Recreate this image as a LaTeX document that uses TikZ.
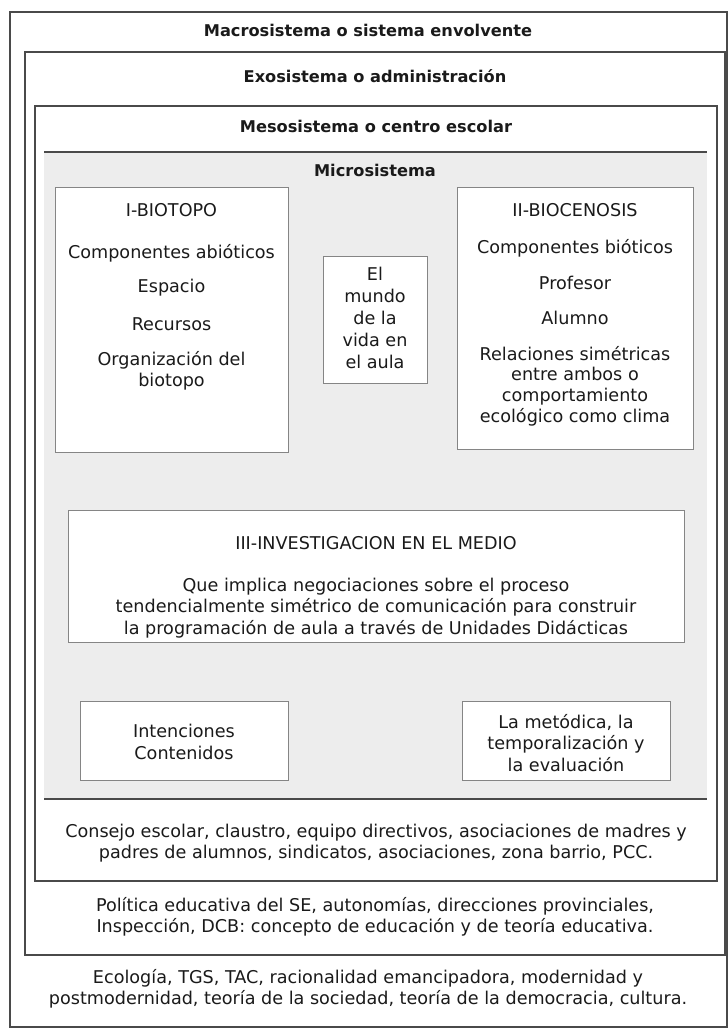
\documentclass[tikz,border=0pt]{standalone}
\usepackage{fontspec}
\setmainfont{DejaVu Sans}
\definecolor{framec}{HTML}{4A4A4A}
\definecolor{boxc}{HTML}{858585}
\definecolor{microc}{HTML}{EDEDED}
\definecolor{textc}{HTML}{1A1A1A}
\begin{document}
\begin{tikzpicture}[x=1pt,y=-1pt,
  frame/.style={draw=framec,line width=1.1pt},
  wbox/.style={draw=boxc,fill=white,line width=1pt},
  txt/.style={inner sep=0pt,align=center,text=textc,font=\fontsize{17.6}{21.5}\selectfont},
  ttl/.style={inner sep=0pt,align=center,text=textc,font=\fontsize{16.2}{21}\selectfont\bfseries}]
\useasboundingbox (0,0) rectangle (728,1028);
% nested frames
\fill[white] (0,0) rectangle (728,1028);
\draw[frame] (10,12) rectangle (727,1027);
\draw[frame] (25,52) rectangle (725,955);
\draw[frame] (35,106) rectangle (717,881);
% microsystem area
\fill[microc] (44,152) rectangle (707,799);
\draw[frame] (44,152) -- (707,152);
\draw[frame] (44,799) -- (707,799);
% titles
\node[ttl] (macro) at (368,30) {Macrosistema o sistema envolvente};
\node[ttl] (exo) at (375,76) {Exosistema o administración};
\node[ttl] (meso) at (376,126) {Mesosistema o centro escolar};
\node[ttl] (micro) at (375,170) {Microsistema};
% I-BIOTOPO
\draw[wbox] (55,187) rectangle (288,452);
\node[txt] (bio1) at (171.5,210) {I-BIOTOPO};
\node[txt] (bio2) at (171.5,253) {Componentes abióticos};
\node[txt] (bio3) at (171.5,288) {Espacio};
\node[txt] (bio4) at (171.5,324) {Recursos};
\node[txt] (bio5) at (171.5,371) {Organización del\\biotopo};
% El mundo
\draw[wbox] (323,256) rectangle (427,383);
\node[txt,font=\fontsize{17.6}{22}\selectfont] (mundo) at (375,318) {El\\mundo\\de la\\vida en\\el aula};
% II-BIOCENOSIS
\draw[wbox] (457,187) rectangle (693,449);
\node[txt] (cen1) at (575,210) {II-BIOCENOSIS};
\node[txt] (cen2) at (575,248) {Componentes bióticos};
\node[txt] (cen3) at (575,283) {Profesor};
\node[txt] (cen4) at (575,318) {Alumno};
\node[txt,font=\fontsize{17.6}{20.7}\selectfont] (cen5) at (575,386) {Relaciones simétricas\\entre ambos o\\comportamiento\\ecológico como clima};
% III-INVESTIGACION
\draw[wbox] (68,510) rectangle (684,642);
\node[txt] (inv1) at (376,543) {III-INVESTIGACION EN EL MEDIO};
\node[txt] (inv2) at (376,608) {Que implica negociaciones sobre el proceso\\tendencialmente simétrico de comunicación para construir\\la programación de aula a través de Unidades Didácticas};
% bottom boxes
\draw[wbox] (80,701) rectangle (288,780);
\node[txt] (inten) at (184,742) {Intenciones\\Contenidos};
\draw[wbox] (462,701) rectangle (670,780);
\node[txt] (metod) at (566,743) {La metódica, la\\temporalización y\\la evaluación};
% outer texts
\node[txt] (meso2) at (376,843) {Consejo escolar, claustro, equipo directivos, asociaciones de madres y\\padres de alumnos, sindicatos, asociaciones, zona barrio, PCC.};
\node[txt] (exo2) at (375,917) {Política educativa del SE, autonomías, direcciones provinciales,\\Inspección, DCB: concepto de educación y de teoría educativa.};
\node[txt] (macro2) at (368,989) {Ecología, TGS, TAC, racionalidad emancipadora, modernidad y\\postmodernidad, teoría de la sociedad, teoría de la democracia, cultura.};
\end{tikzpicture}
\end{document}
